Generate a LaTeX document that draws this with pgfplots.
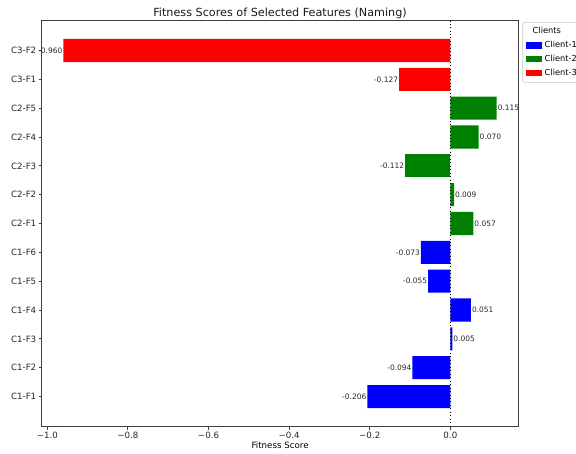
\documentclass[border=0pt]{standalone}
\usepackage{pgfplots}
\pgfplotsset{compat=1.18}
\usepackage{fontspec}
\setmainfont{DejaVu Sans}

\definecolor{mplblue}{RGB}{0,0,255}
\definecolor{mplgreen}{RGB}{0,128,0}
\definecolor{mplred}{RGB}{255,0,0}

\pgfplotsset{
  legbox/.style={legend image code/.code={\fill[##1, sharp corners] (0pt,-2.3pt) rectangle (12pt,2.3pt);}},
  every axis title/.style={at={(0.5,1)}, anchor=base, yshift=3.2pt},
  every axis x label/.style={at={(0.5,0)}, anchor=base, yshift=-16.5pt},
  % value labels: left of negative bars, right of positive bars
  neglab/.style={every node near coord/.append style={anchor=east}},
  poslab/.style={every node near coord/.append style={anchor=west}},
}

\begin{document}
\begin{tikzpicture}
\begin{axis}[
  scale only axis,
  width=357.5pt, height=304.5pt,
  xbar, bar width=0.8, bar shift=0pt,
  xmin=-1.01375, xmax=0.16875,
  ymin=-1.04, ymax=13.04,
  axis line style={black!75, line width=0.6pt},
  tick style={black!75, line width=0.6pt},
  tick align=outside, major tick length=2.4pt,
  xtick={-1,-0.8,-0.6,-0.4,-0.2,0},
  xticklabels={−1.0,−0.8,−0.6,−0.4,−0.2,0.0},
  ytick={0,1,...,12},
  yticklabels={C1-F1,C1-F2,C1-F3,C1-F4,C1-F5,C1-F6,C2-F1,C2-F2,C2-F3,C2-F4,C2-F5,C3-F1,C3-F2},
  xtick pos=bottom, ytick pos=left,
  ticklabel style={font=\fontsize{6.5}{7.5}\selectfont, text=black!85},
  xticklabel style={inner sep=1.5pt},
  yticklabel style={inner sep=1.5pt},
  /pgf/number format/assume math mode=true,
  title={Fitness Scores of Selected Features (Naming)},
  title style={font=\fontsize{8.4}{10}\selectfont, text=black!90},
  xlabel={Fitness Score},
  xlabel style={font=\fontsize{6.5}{7.5}\selectfont},
  point meta=explicit symbolic,
  nodes near coords,
  every node near coord/.append style={
    font=\fontsize{5.6}{6.5}\selectfont, inner xsep=0.6pt, text=black!85},
  legend style={
    at={([xshift=3pt,yshift=-1.3pt]axis description cs:1,1)}, anchor=north west,
    draw=black!22, rounded corners=1.5pt, line width=0.5pt,
    font=\fontsize{6.2}{7}\selectfont, row sep=2.4pt,
    inner xsep=2.5pt, inner ysep=2.8pt,
    nodes={inner ysep=0.9pt},
    cells={anchor=west},
    /tikz/every even column/.append style={column sep=2.5pt},
  },
  legend cell align=left,
]
% legend heading
\addlegendimage{empty legend}
\addlegendentry{\hspace{-9pt}Clients}

% Client 1 features
\addplot[fill=mplblue, draw=none, legbox, neglab] coordinates {
  (-0.206,0) [-0.206]
  (-0.094,1) [-0.094]
  (-0.055,4) [-0.055]
  (-0.073,5) [-0.073]
};
\addlegendentry{Client-1}
\addplot[fill=mplblue, draw=none, poslab, forget plot] coordinates {
  (0.005,2)  [0.005]
  (0.051,3)  [0.051]
};

% Client 2 features
\addplot[fill=mplgreen, draw=none, legbox, poslab] coordinates {
  (0.057,6)  [0.057]
  (0.009,7)  [0.009]
  (0.070,9)  [0.070]
  (0.115,10) [0.115]
};
\addlegendentry{Client-2}
\addplot[fill=mplgreen, draw=none, neglab, forget plot] coordinates {
  (-0.112,8) [-0.112]
};

% Client 3 features
\addplot[fill=mplred, draw=none, legbox, neglab] coordinates {
  (-0.127,11) [-0.127]
  (-0.960,12) [-0.960]
};
\addlegendentry{Client-3}

% zero reference line
\draw[black, dotted, line width=0.6pt] (axis cs:0,-1.04) -- (axis cs:0,13.04);
\end{axis}
\pgfresetboundingbox
\path[use as bounding box] (-31.3pt,-19.9pt) rectangle (400.7pt,319.9pt);
\end{tikzpicture}
\end{document}
